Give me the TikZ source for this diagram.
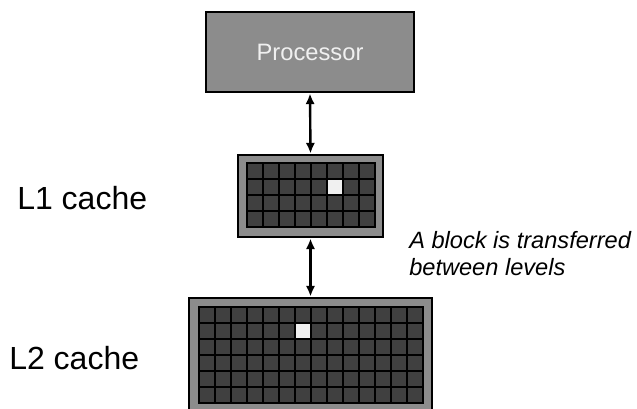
\documentclass[tikz,border=0pt]{standalone}
\usepackage{fontspec}
\setmainfont{Liberation Sans}
\usetikzlibrary{arrows.meta}
\definecolor{boxgray}{HTML}{8C8C8C}
\definecolor{cellgray}{HTML}{404040}
\definecolor{hitwhite}{HTML}{F0F0F0}
\tikzset{
  unit/.style={draw=black, line width=2.2pt, fill=boxgray, inner sep=0pt},
  cell/.style={draw=black, line width=1.4pt, fill=cellgray},
  hit/.style={draw=black, line width=1.4pt, fill=hitwhite},
  bus/.style={line width=1.8pt, {Latex[length=8pt,width=7pt]}-{Latex[length=8pt,width=7pt]}},
  lvl/.style={font=\fontsize{24}{28}\selectfont, inner sep=0pt, anchor=base west},
}
\begin{document}
\begin{tikzpicture}[x=0.75pt,y=-0.75pt]
  \clip (0,0) rectangle (637,408);

  % processor and the two cache levels
  \node[unit, minimum width=156pt, minimum height=60pt, text=hitwhite,
        font=\fontsize{17.8}{20}\selectfont] (proc) at (310,52) {Processor};
  \node[unit, minimum width=108.75pt, minimum height=61.5pt] (l1) at (310.5,196) {};
  \node[unit, minimum width=182.25pt, minimum height=86.25pt] (l2) at (310.5,355.5) {};

  % blocks of L1
  \foreach \c in {0,...,7}
    \foreach \r in {0,...,3}
      \draw[cell] ({247+16*\c},{163+16*\r}) rectangle ++(16,16);
  \draw[hit] (327,179) rectangle ++(16,16);

  % blocks of L2
  \foreach \c in {0,...,13}
    \foreach \r in {0,...,5}
      \draw[cell] ({199+16*\c},{307+16*\r}) rectangle ++(16,16);
  \draw[hit] (295,323) rectangle ++(16,16);

  \draw[bus] (proc.south) -- (l1.north);
  \draw[bus] (l1.south) -- (l2.north);

  \node[lvl] (l1name) at (17,209) {L1 cache};
  \node[lvl] (l2name) at (9,369) {L2 cache};
  \node[font=\fontsize{17.7}{20.25}\selectfont\itshape, align=left,
        inner sep=0pt, anchor=north west] (note) at (409,231)
        {A block is transferred\\between levels};
\end{tikzpicture}
\end{document}
